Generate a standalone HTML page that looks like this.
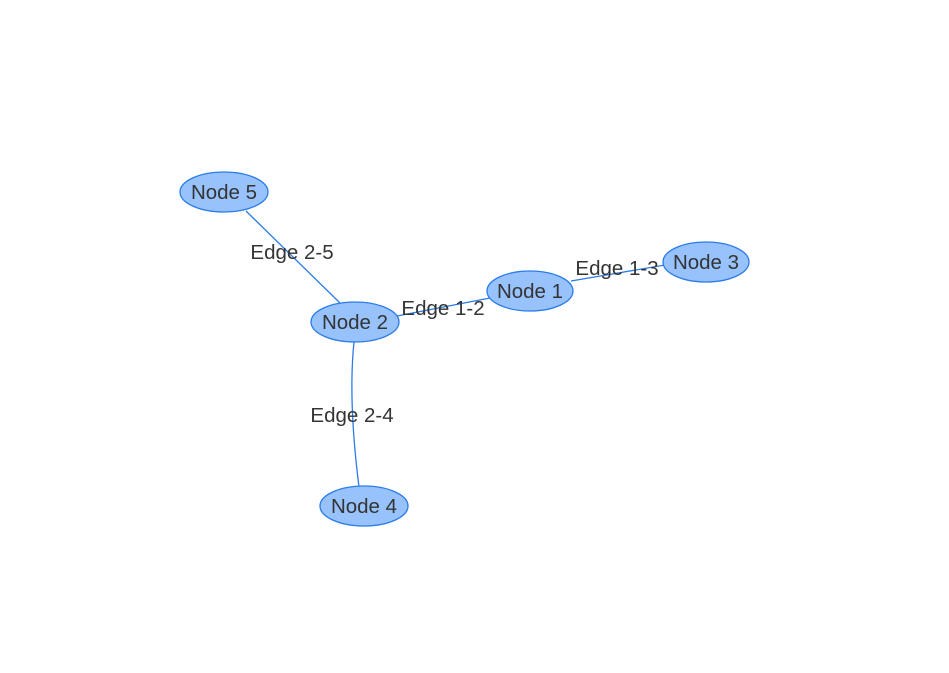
<!DOCTYPE html>
<html><head><meta charset="utf-8"><style>
html,body{margin:0;padding:0;background:#fff;}
svg{display:block;}
text{font-family:"Liberation Sans",Arial,sans-serif;font-size:20.5px;fill:#343434;}
</style></head><body>
<svg width="949" height="673" viewBox="0 0 949 673" xmlns="http://www.w3.org/2000/svg">
<g stroke="#2b7ce9" stroke-width="1.3" fill="none">
<line x1="246" y1="211" x2="340" y2="303"/>
<line x1="397" y1="316" x2="490" y2="298"/>
<line x1="571" y1="281" x2="665" y2="265"/>
<path d="M354 342 Q348 400 359 487"/>
</g>
<g fill="#97c2fc" stroke="#2b7ce9" stroke-width="1.3">
<ellipse cx="224" cy="192" rx="44" ry="20"/>
<ellipse cx="355" cy="322" rx="44" ry="20"/>
<ellipse cx="530" cy="291" rx="43" ry="20"/>
<ellipse cx="706" cy="262" rx="43" ry="20"/>
<ellipse cx="364" cy="506" rx="44" ry="20"/>
</g>
<g text-anchor="middle">
<text x="224" y="199">Node 5</text>
<text x="355" y="329">Node 2</text>
<text x="530" y="298">Node 1</text>
<text x="706" y="269">Node 3</text>
<text x="364" y="513">Node 4</text>
<text x="292" y="259">Edge 2-5</text>
<text x="443" y="315">Edge 1-2</text>
<text x="617" y="275">Edge 1-3</text>
<text x="352" y="422">Edge 2-4</text>
</g>
</svg>
</body></html>
